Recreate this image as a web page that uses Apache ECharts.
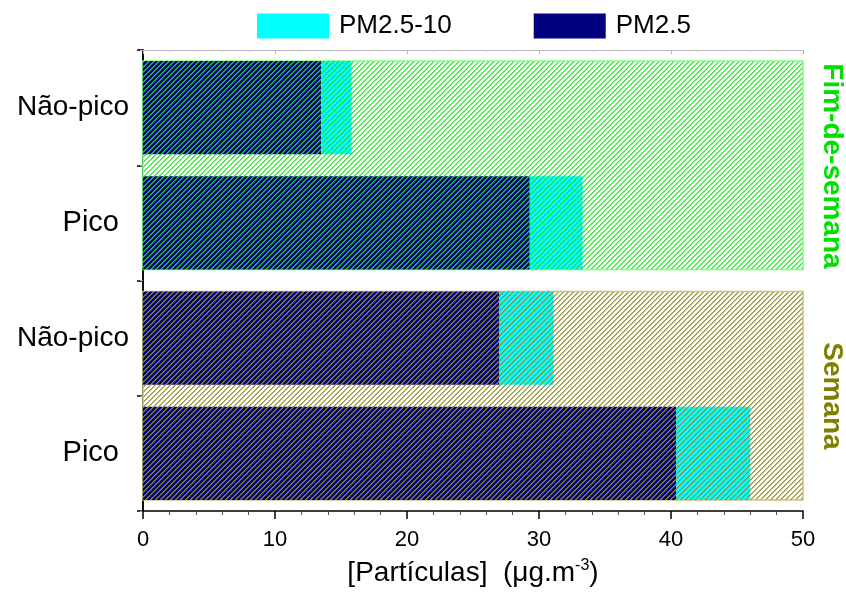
<!DOCTYPE html>
<html><head><meta charset="utf-8">
<script src="https://cdn.jsdelivr.net/npm/echarts@6/dist/echarts.min.js"></script>
<style>html,body{margin:0;padding:0;background:#fff}#c{width:846px;height:592px}</style>
</head><body><div id="c"></div>
<script>
// ---- data ----
const categoryKeys = ['Semana|Pico', 'Semana|Não-pico', 'Fim-de-semana|Pico', 'Fim-de-semana|Não-pico'];
const categoryLabels = ['Pico', 'Não-pico', 'Pico', 'Não-pico'];
const groupOfRow = ['Semana', 'Semana', 'Fim-de-semana', 'Fim-de-semana'];
const pm25 = [40.4, 27.0, 29.3, 13.5];
const pm2510 = [5.6, 4.1, 4.0, 2.3];
const groups = ['Semana', 'Fim-de-semana'];
const groupFromRow = [0, 2];
const groupToRow = [1, 3];
const groupExtent = [50, 50];
const xTicks = [0, 10, 20, 30, 40, 50];

// ---- styles ----
const hatchColor = {'Semana': '#8a8a2a', 'Fim-de-semana': '#22cc33'};
const bandLine = {'Semana': '#9a9a40', 'Fim-de-semana': '#3ae83a'};
const bandBorder = {'Semana': '#c8c080', 'Fim-de-semana': '#7dff7d'};
const labelColor = {'Semana': '#808000', 'Fim-de-semana': '#00e000'};
const FONT = 'Arial, "Liberation Sans", sans-serif';

function hatch(bg, line, wide) {
  const n = 5;
  const c = document.createElement('canvas');
  c.width = n; c.height = n;
  const g = c.getContext('2d');
  if (bg) { g.fillStyle = bg; g.fillRect(0, 0, n, n); }
  g.fillStyle = line;
  for (let i = 0; i < n; i++) g.fillRect(n - 1 - i, i, 1, 1);
  g.globalAlpha = wide;
  for (let i = 0; i < n; i++) g.fillRect((n - i) % n, i, 1, 1);
  return {image: c, repeat: 'repeat'};
}

const chart = echarts.init(document.getElementById('c'));
const barFrac = 0.81;

const bandData = groups.map((g, i) => [groupFromRow[i], groupToRow[i], groupExtent[i], i]);

chart.setOption({
  animation: false,
  grid: {left: 143, right: 43, top: 50, bottom: 79},
  legend: {
    top: 13, left: 257, padding: 0, itemWidth: 72, itemHeight: 25, itemGap: 82,
    textStyle: {fontFamily: FONT, fontSize: 26, color: '#000', padding: [0, 0, 0, 5]},
    data: [
      {name: 'PM2.5-10', icon: 'rect', itemStyle: {color: '#00ffff', borderWidth: 0}},
      {name: 'PM2.5', icon: 'rect', itemStyle: {color: '#000080', borderWidth: 0}}
    ]
  },
  xAxis: [{
    type: 'value', min: 0, max: 50, interval: 10, position: 'bottom',
    name: '[Partículas]  (μg.m{sup|-3})', nameLocation: 'middle', nameGap: 47,
    nameTextStyle: {fontFamily: FONT, fontSize: 28, color: '#000',
      rich: {sup: {fontFamily: FONT, fontSize: 16, color: '#000', verticalAlign: 'top', padding: [0, 0, 14, 0]}}},
    axisLine: {show: true, lineStyle: {color: '#000', width: 1.5}},
    axisTick: {show: true, length: 8, lineStyle: {color: '#000', width: 1.5}},
    minorTick: {show: true, splitNumber: 5, length: 4, lineStyle: {color: '#555'}},
    axisLabel: {fontFamily: FONT, fontSize: 22, color: '#000', margin: 18,
      formatter: v => xTicks.includes(v) ? String(v) : ''},
    splitLine: {show: false}
  }, {
    type: 'value', min: 0, max: 50, interval: 10, position: 'top',
    axisLine: {show: true, lineStyle: {color: '#bbb', width: 1}},
    axisTick: {show: true, inside: true, length: 4, lineStyle: {color: '#bbb'}},
    minorTick: {show: true, splitNumber: 5, length: 2, lineStyle: {color: '#ccc'}},
    axisLabel: {show: false}, splitLine: {show: false}
  }],
  yAxis: [{
    type: 'category', data: categoryKeys, position: 'left',
    axisLine: {show: true, lineStyle: {color: '#000', width: 1.5}},
    axisTick: {show: true, length: 6, lineStyle: {color: '#000', width: 1.5}},
    axisLabel: {fontFamily: FONT, fontSize: 28, color: '#000', margin: 14,
      formatter: (v, i) => categoryLabels[i] === 'Pico' ? '{p|' + categoryLabels[i] + '}' : categoryLabels[i],
      rich: {p: {fontFamily: FONT, fontSize: 29, color: '#000', padding: [0, 10, 0, 0]}}}
  }, {
    type: 'category', data: categoryKeys, position: 'right',
    axisLine: {show: true, lineStyle: {color: '#000', width: 1.5}},
    axisTick: {show: true, inside: true, length: 3, lineStyle: {color: '#aaa'}},
    axisLabel: {show: false}
  }],
  series: [{
    type: 'custom', name: 'band', z: 1, silent: true,
    data: bandData,
    encode: {x: 2, y: [0, 1]},
    renderItem: function (params, api) {
      const gi = api.value(3);
      const g = groups[gi];
      const p0 = api.coord([0, api.value(0)]);
      const p1 = api.coord([api.value(2), api.value(1)]);
      const half = api.size([0, 1])[1] * barFrac / 2;
      const yTop = Math.min(p0[1], p1[1]) - half;
      const yBot = Math.max(p0[1], p1[1]) + half;
      return {
        type: 'rect',
        shape: {x: p0[0], y: yTop, width: p1[0] - p0[0], height: yBot - yTop},
        style: {fill: hatch('#ffffff', bandLine[g], 0.75), stroke: bandBorder[g], lineWidth: 1.5}
      };
    }
  }, {
    type: 'bar', name: 'PM2.5', stack: 's', z: 2, barCategoryGap: '19%',
    data: pm25.map((v, i) => ({value: v, itemStyle: {color: hatch('#000080', hatchColor[groupOfRow[i]], 0.7)}}))
  }, {
    type: 'bar', name: 'PM2.5-10', stack: 's', z: 2, barCategoryGap: '19%',
    data: pm2510.map((v, i) => ({value: v, itemStyle: {color: hatch('#00ffff', hatchColor[groupOfRow[i]], 0.35)}}))
  }],
  graphic: [
    {type: 'text', x: 832, y: 166, rotation: -Math.PI / 2,
      style: {text: 'Fim-de-semana', fontFamily: FONT, fontSize: 28, fontWeight: 'bold', fill: labelColor['Fim-de-semana'], align: 'center', verticalAlign: 'middle'}},
    {type: 'text', x: 832, y: 396, rotation: -Math.PI / 2,
      style: {text: 'Semana', fontFamily: FONT, fontSize: 28, fontWeight: 'bold', fill: labelColor['Semana'], align: 'center', verticalAlign: 'middle'}}
  ]
});
</script></body></html>
